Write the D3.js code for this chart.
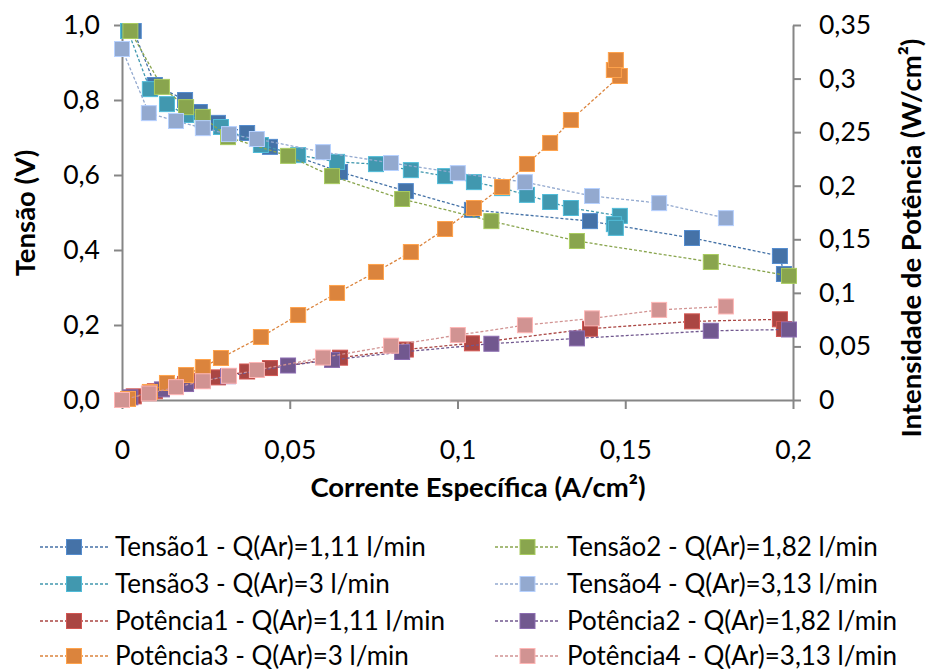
<!DOCTYPE html>
<html>
<head>
<meta charset="utf-8">
<script src="https://cdn.jsdelivr.net/npm/d3@7"></script>
<style>
  html, body { margin: 0; padding: 0; background: #fff; }
  svg { display: block; font-family: Lato, "Open Sans", "Liberation Sans", sans-serif; }
</style>
</head>
<body>
<svg id="chart" width="926" height="672"></svg>
<script>
// Specific current (A/cm²) for each air-flow run
const tensao1I = [0.0035, 0.0098, 0.0188, 0.0232, 0.0286, 0.0373, 0.0441, 0.065, 0.0846, 0.1043, 0.1395, 0.1699, 0.1961, 0.1973];
const tensao2I = [0.0025, 0.0119, 0.0191, 0.0241, 0.0316, 0.0495, 0.0626, 0.0835, 0.1101, 0.1356, 0.1755, 0.1988];
const tensao3I = [0.0018, 0.0083, 0.0134, 0.0191, 0.0241, 0.0295, 0.0414, 0.0525, 0.0641, 0.0757, 0.0861, 0.0963, 0.1049, 0.1133, 0.1207, 0.1276, 0.1338, 0.1484, 0.1466, 0.1472];
const tensao4I = [0.0, 0.008, 0.0161, 0.0241, 0.0319, 0.0402, 0.0599, 0.0802, 0.1001, 0.1201, 0.1401, 0.1601, 0.18];

// Cell voltage (V)
const tensao1V = [0.984, 0.84, 0.80, 0.768, 0.739, 0.712, 0.675, 0.608, 0.557, 0.507, 0.477, 0.432, 0.384, 0.336];
const tensao2V = [0.984, 0.835, 0.781, 0.755, 0.701, 0.651, 0.597, 0.536, 0.477, 0.424, 0.368, 0.331];
const tensao3V = [0.984, 0.829, 0.789, 0.76, 0.747, 0.728, 0.68, 0.653, 0.635, 0.629, 0.613, 0.597, 0.581, 0.565, 0.547, 0.528, 0.512, 0.491, 0.469, 0.459];
const tensao4V = [0.936, 0.765, 0.744, 0.725, 0.709, 0.696, 0.661, 0.632, 0.605, 0.581, 0.544, 0.525, 0.485];

// Power density (W/cm²)
const potencia1P = [0.0034, 0.0082, 0.015, 0.0178, 0.0211, 0.0266, 0.0298, 0.0395, 0.0471, 0.0529, 0.0665, 0.0734, 0.0753, 0.0663];
const potencia2P = [0.0025, 0.0099, 0.0149, 0.0182, 0.0222, 0.0322, 0.0374, 0.0448, 0.0525, 0.0575, 0.0646, 0.0658];
const potencia3P = [0.001, 0.0075, 0.0159, 0.0233, 0.0308, 0.0392, 0.0588, 0.0793, 0.0999, 0.1195, 0.1381, 0.1596, 0.1792, 0.1988, 0.2203, 0.2399, 0.2613, 0.3024, 0.308, 0.3173];
const potencia4P = [0.0, 0.0061, 0.012, 0.0175, 0.0226, 0.028, 0.0396, 0.0507, 0.0606, 0.0698, 0.0762, 0.0841, 0.0873];

// Series names and colours
const seriesNames = [
  "Tensão1 - Q(Ar)=1,11 l/min", "Tensão2 - Q(Ar)=1,82 l/min",
  "Tensão3 - Q(Ar)=3 l/min", "Tensão4 - Q(Ar)=3,13 l/min",
  "Potência1 - Q(Ar)=1,11 l/min", "Potência2 - Q(Ar)=1,82 l/min",
  "Potência3 - Q(Ar)=3 l/min", "Potência4 - Q(Ar)=3,13 l/min"
];
const seriesColors = ["#4572A7", "#89A54E", "#4198AF", "#93A9CF", "#AA4643", "#71588F", "#DB843D", "#D19392"];

// Axis ticks
const xTicks = [0, 0.05, 0.1, 0.15, 0.2];
const leftTicks = [0, 0.2, 0.4, 0.6, 0.8, 1.0];
const rightTicks = [0, 0.05, 0.1, 0.15, 0.2, 0.25, 0.3, 0.35];

const series = [
  { name: seriesNames[0], color: seriesColors[0], xs: tensao1I, ys: tensao1V, axis: "left" },
  { name: seriesNames[1], color: seriesColors[1], xs: tensao2I, ys: tensao2V, axis: "left" },
  { name: seriesNames[2], color: seriesColors[2], xs: tensao3I, ys: tensao3V, axis: "left" },
  { name: seriesNames[3], color: seriesColors[3], xs: tensao4I, ys: tensao4V, axis: "left" },
  { name: seriesNames[4], color: seriesColors[4], xs: tensao1I, ys: potencia1P, axis: "right" },
  { name: seriesNames[5], color: seriesColors[5], xs: tensao2I, ys: potencia2P, axis: "right" },
  { name: seriesNames[6], color: seriesColors[6], xs: tensao3I, ys: potencia3P, axis: "right" },
  { name: seriesNames[7], color: seriesColors[7], xs: tensao4I, ys: potencia4P, axis: "right" }
];
// painting order (later on top)
const drawOrder = [0, 2, 1, 3, 4, 5, 6, 7];

const svg = d3.select("#chart");
const plot = { left: 122, right: 793, top: 25, bottom: 400 };

const x = d3.scaleLinear().domain([0, 0.2]).range([plot.left, plot.right]);
const yL = d3.scaleLinear().domain([0, 1]).range([plot.bottom, plot.top]);
const yR = d3.scaleLinear().domain([0, 0.35]).range([plot.bottom, plot.top]);

const fmtComma = d => String(+d.toFixed(2)).replace(".", ",");
const fmtLeft = d => d.toFixed(1).replace(".", ",");
const axisColor = "#868686";

function styleAxis(g) {
  g.select(".domain").attr("stroke", axisColor).attr("stroke-width", 2);
  g.selectAll(".tick line").attr("stroke", axisColor).attr("stroke-width", 2);
  g.selectAll(".tick text").attr("fill", "#000").style("font-size", "26.5px")
    .style("font-family", "Lato, 'Open Sans', sans-serif");
}

svg.append("g")
  .attr("transform", `translate(${plot.left},0)`)
  .call(d3.axisLeft(yL).tickValues(leftTicks).tickFormat(fmtLeft).tickSizeInner(8).tickSizeOuter(0).tickPadding(14))
  .call(styleAxis);

svg.append("g")
  .attr("transform", `translate(${plot.right},0)`)
  .call(d3.axisRight(yR).tickValues(rightTicks).tickFormat(fmtComma).tickSizeInner(8).tickSizeOuter(0).tickPadding(18))
  .call(styleAxis);

svg.append("g")
  .attr("transform", `translate(0,${plot.bottom})`)
  .call(d3.axisBottom(x).tickValues(xTicks).tickFormat(fmtComma).tickSizeInner(9).tickSizeOuter(0).tickPadding(31))
  .call(styleAxis);

// Axis titles
const titleSize = "27.5px";
svg.append("text")
  .attr("transform", `translate(35,213) rotate(-90)`)
  .attr("text-anchor", "middle")
  .style("font-size", titleSize).style("font-weight", "bold")
  .text("Tensão (V)");

svg.append("text")
  .attr("x", 478).attr("y", 497)
  .attr("text-anchor", "middle")
  .style("font-size", titleSize).style("font-weight", "bold")
  .text("Corrente Específica (A/cm²)");

svg.append("text")
  .attr("transform", `translate(921,238) rotate(-90)`)
  .attr("text-anchor", "middle")
  .style("font-size", titleSize).style("font-weight", "bold")
  .text("Intensidade de Potência (W/cm²)");

// Lines and markers
const marker = 15;
const lighten = c => d3.color(c).brighter(0.6).formatHex();

drawOrder.forEach(i => {
  const s = series[i];
  const yScale = s.axis === "left" ? yL : yR;
  const pts = s.xs.map((xv, k) => [xv, s.ys[k]]);
  const line = d3.line().x(d => x(d[0])).y(d => yScale(d[1]));
  const g = svg.append("g");
  g.append("path")
    .attr("d", line(pts))
    .attr("fill", "none")
    .attr("stroke", s.color)
    .attr("stroke-width", 1.3)
    .attr("stroke-dasharray", "3,2");
  g.selectAll("rect").data(pts).join("rect")
    .attr("x", d => x(d[0]) - marker / 2)
    .attr("y", d => yScale(d[1]) - marker / 2)
    .attr("width", marker).attr("height", marker)
    .attr("fill", s.color)
    .attr("stroke", lighten(s.color))
    .attr("stroke-width", 1);
});

// Legend
const legendCols = [{ lx0: 40, lx1: 108, tx: 115 }, { lx0: 495, lx1: 560, tx: 567 }];
const legendRows = [547, 584, 621, 656];
series.forEach((s, i) => {
  const col = legendCols[i % 2];
  const cy = legendRows[Math.floor(i / 2)];
  const g = svg.append("g");
  g.append("line")
    .attr("x1", col.lx0).attr("x2", col.lx1).attr("y1", cy).attr("y2", cy)
    .attr("stroke", s.color).attr("stroke-width", 1.3).attr("stroke-dasharray", "3,2");
  const mx = (col.lx0 + col.lx1) / 2;
  g.append("rect")
    .attr("x", mx - marker / 2).attr("y", cy - marker / 2)
    .attr("width", marker).attr("height", marker)
    .attr("fill", s.color).attr("stroke", lighten(s.color)).attr("stroke-width", 1);
  g.append("text")
    .attr("x", col.tx).attr("y", cy)
    .attr("dy", "0.35em")
    .style("font-size", "26px")
    .text(s.name);
});
</script>
</body>
</html>
